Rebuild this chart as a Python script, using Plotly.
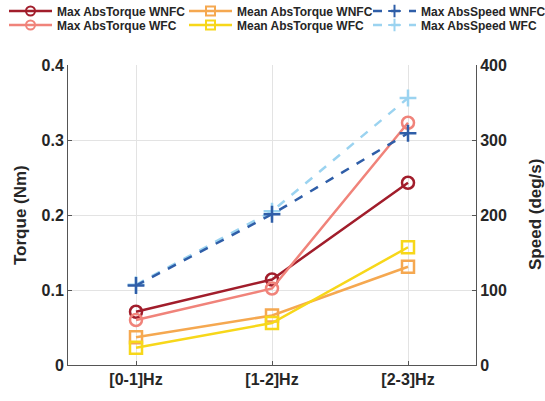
import plotly.graph_objects as go

categories = ["[0-1]Hz", "[1-2]Hz", "[2-3]Hz"]
max_torque_wnfc = [0.071, 0.114, 0.243]
max_torque_wfc = [0.060, 0.102, 0.323]
mean_torque_wnfc = [0.037, 0.066, 0.131]
mean_torque_wfc = [0.023, 0.056, 0.157]
max_speed_wnfc = [106, 201, 309]
max_speed_wfc = [107, 205, 356]

C_DRED = "#A11D2B"
C_PINK = "#F0837A"
C_ORANGE = "#F5A850"
C_YELLOW = "#F7D71A"
C_DBLUE = "#2F5EA8"
C_LBLUE = "#9BD3F0"

FONT = "Liberation Sans, Arial, sans-serif"
x = [0, 1, 2]
fig = go.Figure()

# (name, data, color, symbol, dashed, axis, legend id)
series = [
    ("Max AbsSpeed WFC", max_speed_wfc, C_LBLUE, "cross-thin", True, "y2", "legend6"),
    ("Max AbsSpeed WNFC", max_speed_wnfc, C_DBLUE, "cross-thin", True, "y2", "legend3"),
    ("Max AbsTorque WNFC", max_torque_wnfc, C_DRED, "circle-open", False, "y", "legend"),
    ("Max AbsTorque WFC", max_torque_wfc, C_PINK, "circle-open", False, "y", "legend4"),
    ("Mean AbsTorque WNFC", mean_torque_wnfc, C_ORANGE, "square-open", False, "y", "legend2"),
    ("Mean AbsTorque WFC", mean_torque_wfc, C_YELLOW, "square-open", False, "y", "legend5"),
]

for name, y, color, sym, dashed, ax, lg in series:
    line = dict(color=color, width=2.5, dash="dash" if dashed else "solid")
    fig.add_trace(go.Scatter(
        x=x, y=y, name=name, mode="lines+markers", line=line,
        marker=dict(symbol=sym, size=12, color=color, line=dict(color=color, width=2.5)),
        yaxis=ax, showlegend=False))
    # legend-only entry with smaller marker, like the reference legend
    fig.add_trace(go.Scatter(
        x=[None], y=[None], name=name, mode="lines+markers",
        line=dict(color=color, width=2.5, dash="dash" if dashed else "solid"),
        marker=dict(symbol=sym, size=9, color=color, line=dict(color=color, width=2)),
        yaxis=ax, showlegend=True, legend=lg))

axis_font = dict(family=FONT, size=16, color="#262626")
title_font = dict(family=FONT, size=17, color="#262626")

W, H = 545, 401


def lg(px_left, py_center):
    return dict(x=max(0.0, px_left / W), xanchor="left", xref="container",
                y=1 - py_center / H, yanchor="middle", yref="container",
                orientation="v", itemwidth=43, bgcolor="rgba(0,0,0,0)",
                font=dict(size=12, family=FONT, color="#262626", weight="bold"))


fig.update_layout(
    width=W, height=H,
    margin=dict(l=68, r=69, t=65, b=36, autoexpand=False),
    paper_bgcolor="white", plot_bgcolor="white",
    font=dict(family=FONT, color="#262626"),
    showlegend=True,
    legend=lg(4, 11), legend4=lg(4, 25),
    legend2=lg(184, 11), legend5=lg(184, 25),
    legend3=lg(368, 11), legend6=lg(368, 25),
    xaxis=dict(range=[-0.5, 2.5], tickvals=x, ticktext=["<b>%s</b>" % c for c in categories],
               tickfont=axis_font, showgrid=True, gridcolor="#E3E3E3", gridwidth=1,
               showline=True, linecolor="#555555", linewidth=1, ticks="inside",
               ticklen=4, tickcolor="#555555", zeroline=False),
    yaxis=dict(range=[0, 0.4], tickvals=[0, 0.1, 0.2, 0.3, 0.4],
               ticktext=["<b>0</b>", "<b>0.1</b>", "<b>0.2</b>", "<b>0.3</b>", "<b>0.4</b>"],
               tickfont=axis_font, showgrid=True, gridcolor="#E3E3E3", gridwidth=1,
               showline=True, linecolor="#555555", linewidth=1, ticks="inside",
               ticklen=4, tickcolor="#555555", zeroline=False),
    yaxis2=dict(range=[0, 400], tickvals=[0, 100, 200, 300, 400],
                ticktext=["<b>0</b>", "<b>100</b>", "<b>200</b>", "<b>300</b>", "<b>400</b>"],
                overlaying="y", side="right", tickfont=axis_font, showgrid=False,
                showline=True, linecolor="#555555", linewidth=1, ticks="inside",
                ticklen=4, tickcolor="#555555", zeroline=False),
    annotations=[
        dict(text="<b>Torque (Nm)</b>", textangle=-90, font=title_font, showarrow=False,
             xref="paper", x=-48 / 408, xanchor="center", yref="paper", y=0.5, yanchor="middle"),
        dict(text="<b>Speed (deg/s)</b>", textangle=-90, font=title_font, showarrow=False,
             xref="paper", x=1 + 59 / 408, xanchor="center", yref="paper", y=0.5, yanchor="middle"),
    ],
)

fig.write_html("out.html", config={"displayModeBar": False},
               post_script="document.body.style.margin='0';")
